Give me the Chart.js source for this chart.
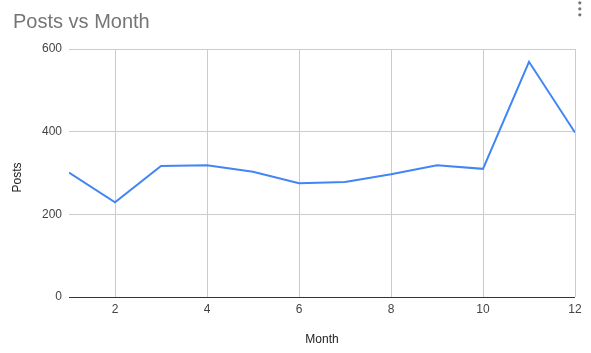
<!DOCTYPE html>
<html>
<head>
<meta charset="utf-8">
<script src="https://cdn.jsdelivr.net/npm/chart.js@4/dist/chart.umd.min.js"></script>
<style>
  html, body { margin: 0; padding: 0; background: #fff; }
  #wrap { position: relative; width: 591px; height: 353px; }
</style>
</head>
<body>
<div id="wrap"><canvas id="c" width="591" height="353"></canvas></div>
<script>
const chartTitle = 'Posts vs Month';
const xAxisTitle = 'Month';
const yAxisTitle = 'Posts';
const months = [1, 2, 3, 4, 5, 6, 7, 8, 9, 10, 11, 12];
const posts = [301, 229, 317, 319, 303, 275, 278, 297, 319, 310, 569, 398];
const xTickValues = [2, 4, 6, 8, 10, 12];
const yTickValues = [0, 200, 400, 600];

const FONT = "'Liberation Sans', Arial, sans-serif";

const headerPlugin = {
  id: 'header',
  afterDraw(chart) {
    const ctx = chart.ctx;
    const a = chart.chartArea;
    ctx.save();
    // chart title
    ctx.fillStyle = '#757575';
    ctx.font = '20px ' + FONT;
    ctx.textBaseline = 'alphabetic';
    ctx.textAlign = 'left';
    ctx.fillText(chartTitle, 13, 27.5);
    // menu dots
    [2.8, 8.8, 14.8].forEach(y => {
      ctx.beginPath();
      ctx.arc(579.8, y, 1.6, 0, Math.PI * 2);
      ctx.fill();
    });
    // y axis title
    ctx.translate(17.7, (a.top + a.bottom) / 2 + 4.5);
    ctx.rotate(-Math.PI / 2);
    ctx.fillStyle = '#222222';
    ctx.font = '12px ' + FONT;
    ctx.textAlign = 'center';
    ctx.textBaseline = 'middle';
    ctx.fillText(yAxisTitle, 0, 0);
    ctx.restore();
  }
};

new Chart(document.getElementById('c'), {
  type: 'line',
  data: {
    datasets: [{
      data: months.map((m, i) => ({ x: m, y: posts[i] })),
      borderColor: '#4285F4',
      backgroundColor: '#4285F4',
      borderWidth: 2,
      pointRadius: 0,
      pointHoverRadius: 0,
      tension: 0,
      fill: false
    }]
  },
  options: {
    responsive: false,
    animation: false,
    devicePixelRatio: 1,
    layout: { padding: { top: 49, right: 16, left: 0, bottom: 0 } },
    plugins: {
      legend: { display: false },
      title: { display: false },
      tooltip: { enabled: false }
    },
    scales: {
      x: {
        type: 'linear',
        min: 1,
        max: 12,
        afterBuildTicks: s => { s.ticks = xTickValues.map(v => ({ value: v })); },
        afterFit: s => { s.height = 56; },
        border: { display: false },
        grid: { color: '#cccccc', drawTicks: false, lineWidth: 1 },
        ticks: { padding: 5, color: '#444444', font: { family: FONT, size: 12 }, maxRotation: 0 },
        title: { display: true, text: xAxisTitle, color: '#222222', font: { family: FONT, size: 12 }, padding: { top: 8, bottom: 6 } }
      },
      y: {
        min: 0,
        max: 600,
        afterBuildTicks: s => { s.ticks = yTickValues.map(v => ({ value: v })); },
        afterFit: s => { s.width = 69; },
        border: { display: false },
        grid: {
          color: c => (c.tick && c.tick.value === 0) ? '#333333' : '#cccccc',
          drawTicks: false,
          lineWidth: 1
        },
        ticks: { padding: 7, color: '#444444', font: { family: FONT, size: 12 } },
        title: { display: false }
      }
    }
  },
  plugins: [headerPlugin]
});
</script>
</body>
</html>
